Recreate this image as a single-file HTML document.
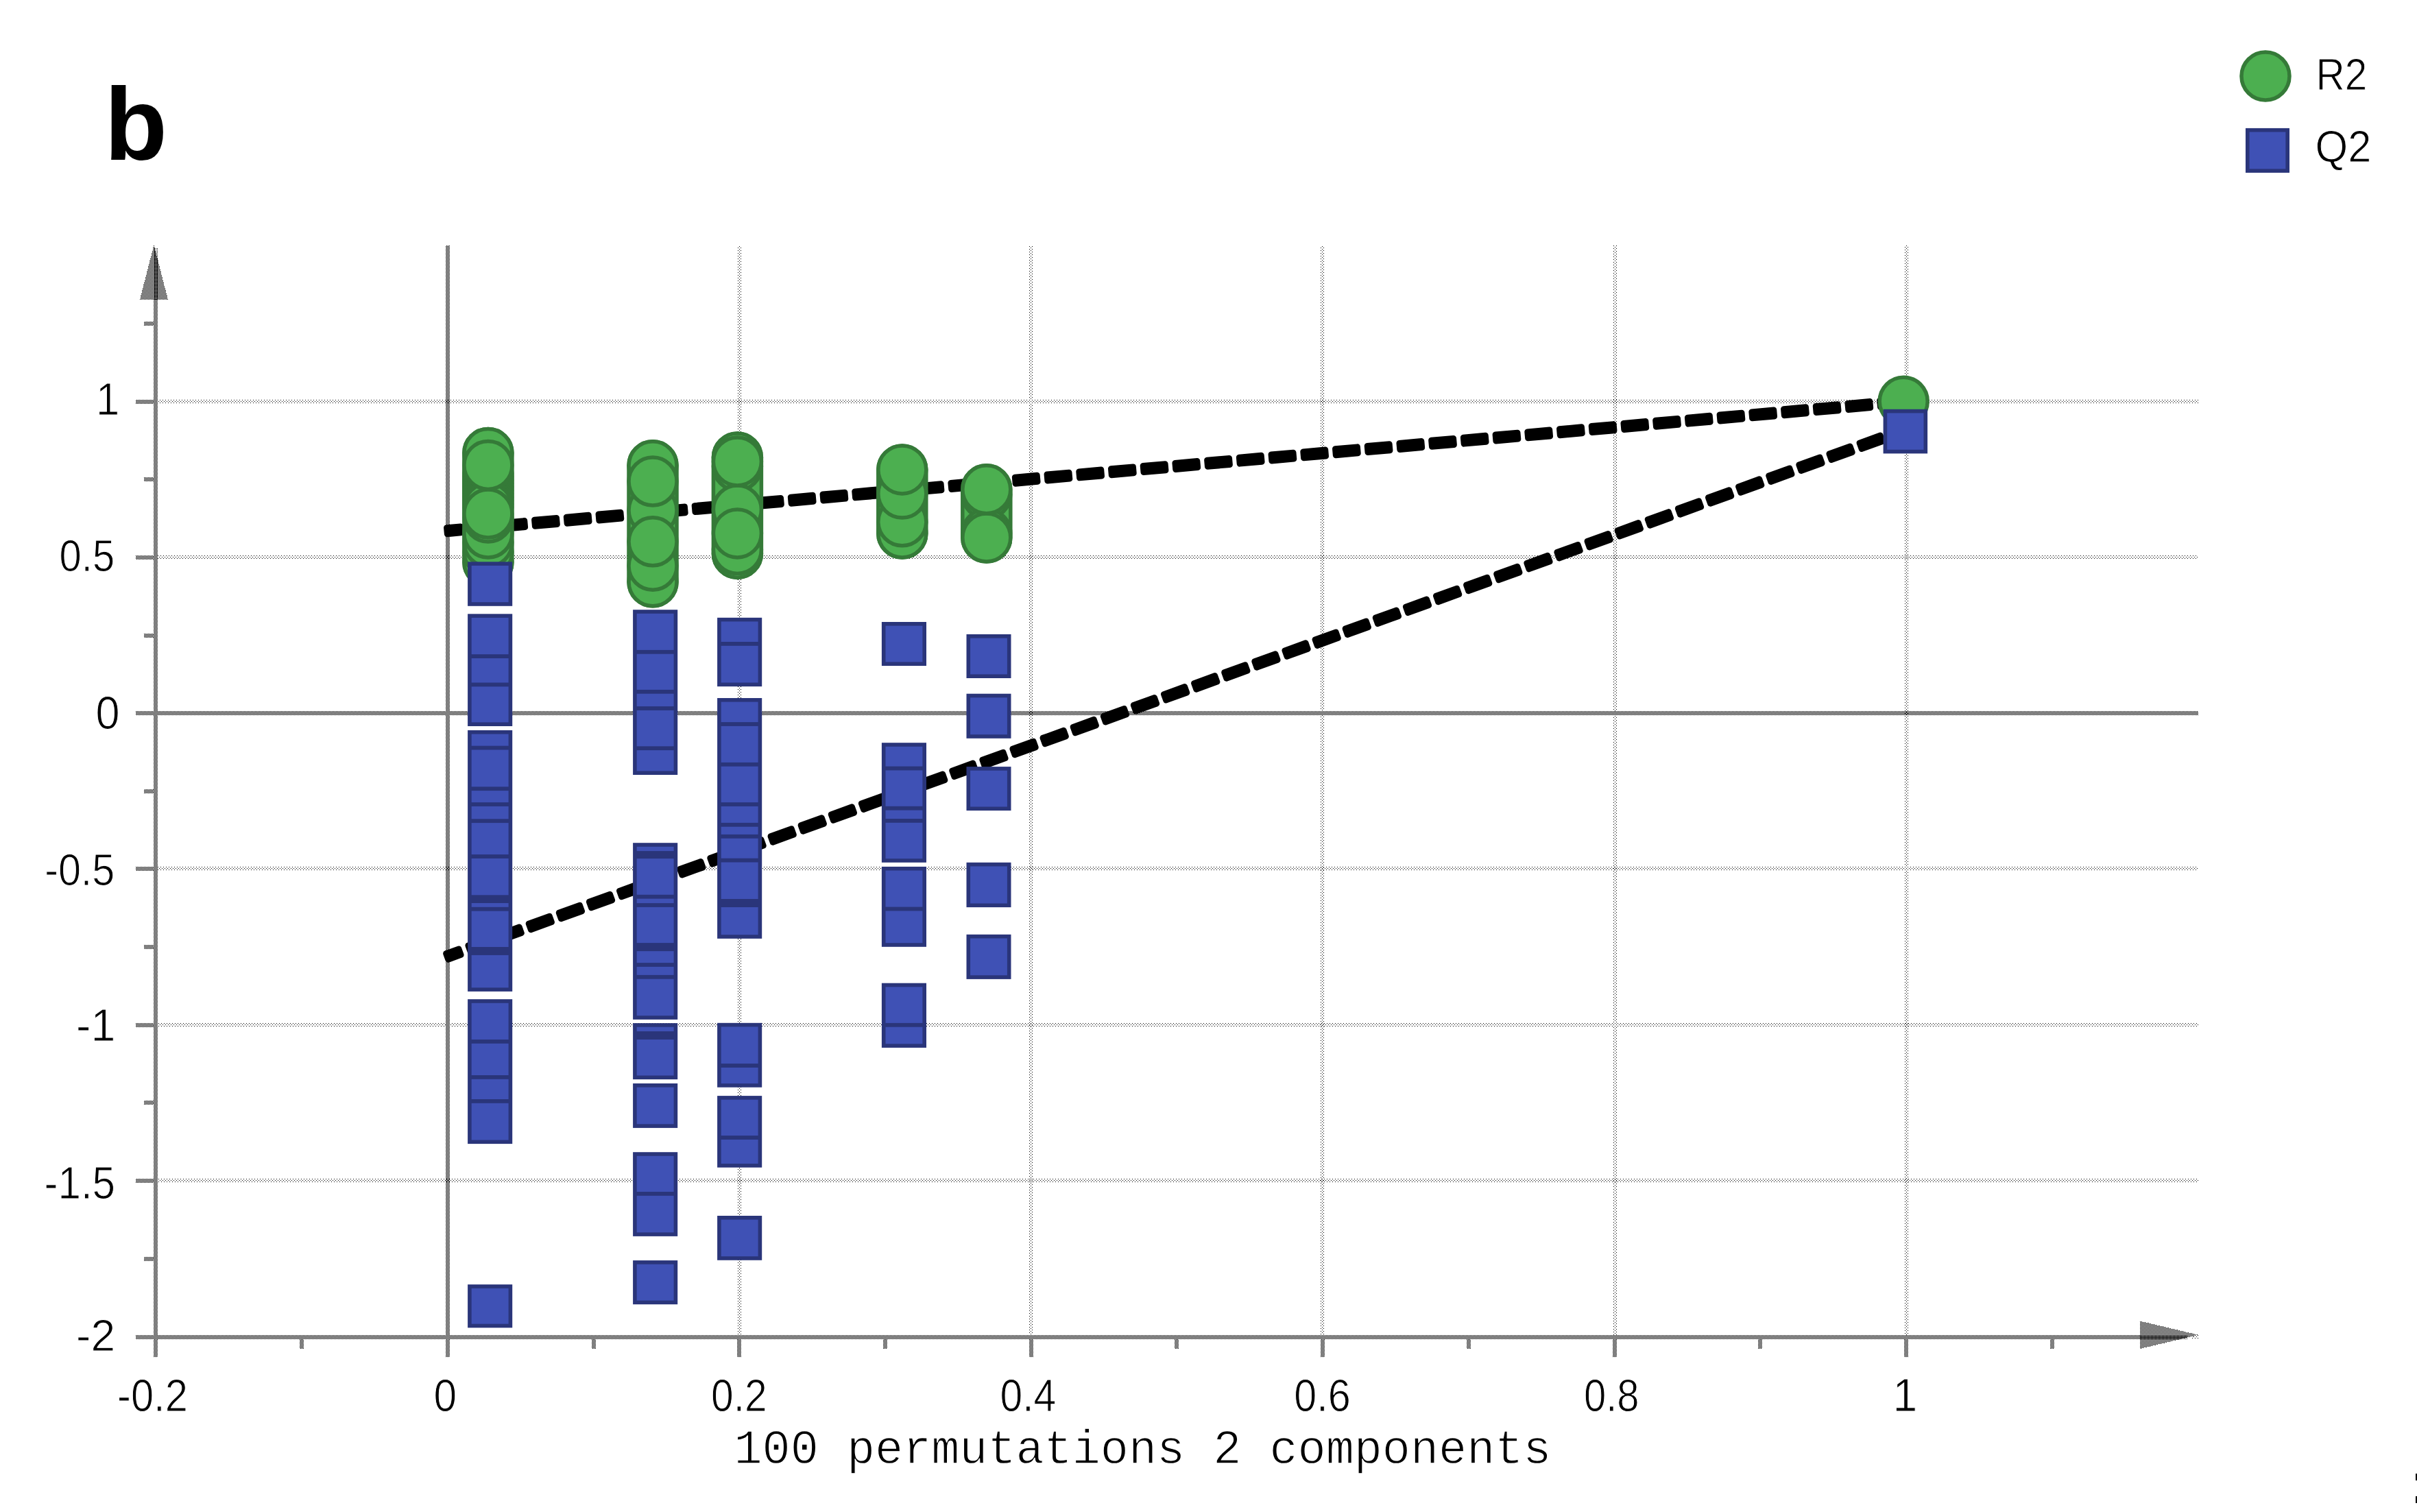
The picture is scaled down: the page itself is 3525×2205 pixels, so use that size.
<!DOCTYPE html>
<html><head><meta charset="utf-8"><title>Permutation plot</title>
<style>html,body{margin:0;padding:0;background:#fff;}body{width:3525px;height:2205px;overflow:hidden;position:relative;font-family:"Liberation Sans",sans-serif;}</style>
</head><body>
<svg width="3525" height="2205" viewBox="0 0 3525 2205" style="position:absolute;left:0;top:0;display:block">
<defs>
<pattern id="chk" width="2" height="2" patternUnits="userSpaceOnUse"><rect x="0" y="0" width="1" height="1" fill="#000"/><rect x="1" y="1" width="1" height="1" fill="#000"/></pattern>
<pattern id="chkB" width="2" height="2" patternUnits="userSpaceOnUse"><rect x="1" y="0" width="1" height="1" fill="#000"/><rect x="0" y="1" width="1" height="1" fill="#000"/></pattern>
<pattern id="q3" width="2" height="2" patternUnits="userSpaceOnUse"><rect x="1" y="0" width="1" height="1" fill="#000"/></pattern>
<pattern id="dl" width="4" height="4" patternUnits="userSpaceOnUse"><rect x="0" y="0" width="1" height="1" fill="#000"/><rect x="2" y="2" width="1" height="1" fill="#000"/></pattern>
<pattern id="dh" width="4" height="4" patternUnits="userSpaceOnUse"><rect x="1" y="3" width="1" height="1" fill="#000"/><rect x="3" y="1" width="1" height="1" fill="#000"/></pattern>
<pattern id="dv" width="4" height="4" patternUnits="userSpaceOnUse"><rect x="0" y="1" width="1" height="1" fill="#000"/><rect x="2" y="3" width="1" height="1" fill="#000"/></pattern>
</defs>
<rect width="3525" height="2205" fill="#fff"/>
<g shape-rendering="crispEdges">
<g transform="translate(229,583)"><rect x="1" y="0" width="2976" height="5" fill="url(#dl)"/></g>
<g transform="translate(230,810)"><rect x="0" y="0" width="2976" height="5" fill="url(#dl)"/></g>
<g transform="translate(230,1264)"><rect x="0" y="0" width="2976" height="5" fill="url(#dl)"/></g>
<g transform="translate(231,1492)"><rect x="-1" y="0" width="2976" height="5" fill="url(#dl)"/></g>
<g transform="translate(231,1719)"><rect x="-1" y="0" width="2976" height="5" fill="url(#dl)"/></g>
<g transform="translate(1076,357)"><rect x="0" y="1" width="5" height="1589" fill="url(#dl)"/></g>
<g transform="translate(1501,359)"><rect x="0" y="-1" width="5" height="1589" fill="url(#dl)"/></g>
<g transform="translate(1926,357)"><rect x="0" y="1" width="5" height="1589" fill="url(#dl)"/></g>
<g transform="translate(2353,358)"><rect x="0" y="0" width="5" height="1589" fill="url(#dl)"/></g>
<g transform="translate(2778,356)"><rect x="0" y="2" width="5" height="1589" fill="url(#dl)"/></g>
<rect x="224" y="437" width="6" height="1516" fill="url(#chkB)"/>
<rect x="224" y="1953" width="6" height="26" fill="url(#chk)"/>
<rect x="198" y="1947" width="2924" height="6" fill="url(#chkB)"/>
<rect x="650" y="358" width="6" height="1595" fill="url(#chkB)"/>
<rect x="650" y="1953" width="6" height="26" fill="url(#chk)"/>
<rect x="198" y="1037" width="3008" height="6" fill="url(#chkB)"/>
<rect x="198" y="583" width="26" height="6" fill="url(#chk)"/>
<rect x="198" y="810" width="26" height="6" fill="url(#chk)"/>
<rect x="198" y="1264" width="26" height="6" fill="url(#chk)"/>
<rect x="198" y="1492" width="26" height="6" fill="url(#chk)"/>
<rect x="198" y="1719" width="26" height="6" fill="url(#chk)"/>
<rect x="210" y="469" width="14" height="6" fill="url(#chk)"/>
<rect x="210" y="696" width="14" height="6" fill="url(#chk)"/>
<rect x="210" y="924" width="14" height="6" fill="url(#chk)"/>
<rect x="210" y="1151" width="14" height="6" fill="url(#chk)"/>
<rect x="210" y="1378" width="14" height="6" fill="url(#chk)"/>
<rect x="210" y="1605" width="14" height="6" fill="url(#chk)"/>
<rect x="210" y="1833" width="14" height="6" fill="url(#chk)"/>
<rect x="1075" y="1953" width="6" height="26" fill="url(#chk)"/>
<rect x="1501" y="1953" width="6" height="26" fill="url(#chk)"/>
<rect x="1926" y="1953" width="6" height="26" fill="url(#chk)"/>
<rect x="2352" y="1953" width="6" height="26" fill="url(#chk)"/>
<rect x="2777" y="1953" width="6" height="26" fill="url(#chk)"/>
<rect x="437" y="1953" width="6" height="14" fill="url(#chk)"/>
<rect x="863" y="1953" width="6" height="14" fill="url(#chk)"/>
<rect x="1288" y="1953" width="6" height="14" fill="url(#chk)"/>
<rect x="1713" y="1953" width="6" height="14" fill="url(#chk)"/>
<rect x="2139" y="1953" width="6" height="14" fill="url(#chk)"/>
<rect x="2564" y="1953" width="6" height="14" fill="url(#chk)"/>
<rect x="2990" y="1953" width="6" height="14" fill="url(#chk)"/>
<polygon points="224.5,357 204,437 245,437" fill="url(#chk)"/>
<polygon points="3206,1946.75 3121,1926.5 3121,1967" fill="url(#chk)"/>
<rect x="3121" y="1947" width="70" height="6" fill="url(#q3)"/><rect x="3197" y="1947" width="9" height="6" fill="url(#dh)"/>
<rect x="224" y="362" width="6" height="75" fill="url(#q3)"/>
</g>
<g fill="#000"><rect x="647.50" y="765.55" width="28.84" height="18.0" rx="4.2" transform="rotate(-5.069 647.50 774.55)"/><rect x="682.10" y="762.48" width="41.00" height="18.0" rx="4.2" transform="rotate(-5.069 682.10 771.48)"/><rect x="728.82" y="758.33" width="41.00" height="18.0" rx="4.2" transform="rotate(-5.069 728.82 767.33)"/><rect x="775.53" y="754.19" width="41.00" height="18.0" rx="4.2" transform="rotate(-5.069 775.53 763.19)"/><rect x="822.25" y="750.05" width="41.00" height="18.0" rx="4.2" transform="rotate(-5.069 822.25 759.05)"/><rect x="868.97" y="745.90" width="41.00" height="18.0" rx="4.2" transform="rotate(-5.069 868.97 754.90)"/><rect x="915.68" y="741.76" width="41.00" height="18.0" rx="4.2" transform="rotate(-5.069 915.68 750.76)"/><rect x="962.40" y="737.62" width="41.00" height="18.0" rx="4.2" transform="rotate(-5.069 962.40 746.62)"/><rect x="1009.12" y="733.47" width="41.00" height="18.0" rx="4.2" transform="rotate(-5.069 1009.12 742.47)"/><rect x="1055.83" y="729.33" width="41.00" height="18.0" rx="4.2" transform="rotate(-5.069 1055.83 738.33)"/><rect x="1102.55" y="725.19" width="41.00" height="18.0" rx="4.2" transform="rotate(-5.069 1102.55 734.19)"/><rect x="1149.27" y="721.04" width="41.00" height="18.0" rx="4.2" transform="rotate(-5.069 1149.27 730.04)"/><rect x="1195.98" y="716.90" width="41.00" height="18.0" rx="4.2" transform="rotate(-5.069 1195.98 725.90)"/><rect x="1242.70" y="712.75" width="41.00" height="18.0" rx="4.2" transform="rotate(-5.069 1242.70 721.75)"/><rect x="1289.42" y="708.61" width="41.00" height="18.0" rx="4.2" transform="rotate(-5.069 1289.42 717.61)"/><rect x="1336.13" y="704.47" width="41.00" height="18.0" rx="4.2" transform="rotate(-5.069 1336.13 713.47)"/><rect x="1382.85" y="700.32" width="41.00" height="18.0" rx="4.2" transform="rotate(-5.069 1382.85 709.32)"/><rect x="1429.57" y="696.18" width="41.00" height="18.0" rx="4.2" transform="rotate(-5.069 1429.57 705.18)"/><rect x="1476.28" y="692.04" width="41.00" height="18.0" rx="4.2" transform="rotate(-5.069 1476.28 701.04)"/><rect x="1523.00" y="687.89" width="41.00" height="18.0" rx="4.2" transform="rotate(-5.069 1523.00 696.89)"/><rect x="1569.72" y="683.75" width="41.00" height="18.0" rx="4.2" transform="rotate(-5.069 1569.72 692.75)"/><rect x="1616.43" y="679.61" width="41.00" height="18.0" rx="4.2" transform="rotate(-5.069 1616.43 688.61)"/><rect x="1663.15" y="675.46" width="41.00" height="18.0" rx="4.2" transform="rotate(-5.069 1663.15 684.46)"/><rect x="1709.87" y="671.32" width="41.00" height="18.0" rx="4.2" transform="rotate(-5.069 1709.87 680.32)"/><rect x="1756.58" y="667.17" width="41.00" height="18.0" rx="4.2" transform="rotate(-5.069 1756.58 676.17)"/><rect x="1803.30" y="663.03" width="41.00" height="18.0" rx="4.2" transform="rotate(-5.069 1803.30 672.03)"/><rect x="1850.01" y="658.89" width="41.00" height="18.0" rx="4.2" transform="rotate(-5.069 1850.01 667.89)"/><rect x="1896.73" y="654.74" width="41.00" height="18.0" rx="4.2" transform="rotate(-5.069 1896.73 663.74)"/><rect x="1943.45" y="650.60" width="41.00" height="18.0" rx="4.2" transform="rotate(-5.069 1943.45 659.60)"/><rect x="1990.16" y="646.46" width="41.00" height="18.0" rx="4.2" transform="rotate(-5.069 1990.16 655.46)"/><rect x="2036.88" y="642.31" width="41.00" height="18.0" rx="4.2" transform="rotate(-5.069 2036.88 651.31)"/><rect x="2083.60" y="638.17" width="41.00" height="18.0" rx="4.2" transform="rotate(-5.069 2083.60 647.17)"/><rect x="2130.31" y="634.03" width="41.00" height="18.0" rx="4.2" transform="rotate(-5.069 2130.31 643.03)"/><rect x="2177.03" y="629.88" width="41.00" height="18.0" rx="4.2" transform="rotate(-5.069 2177.03 638.88)"/><rect x="2223.75" y="625.74" width="41.00" height="18.0" rx="4.2" transform="rotate(-5.069 2223.75 634.74)"/><rect x="2270.46" y="621.59" width="41.00" height="18.0" rx="4.2" transform="rotate(-5.069 2270.46 630.59)"/><rect x="2317.18" y="617.45" width="41.00" height="18.0" rx="4.2" transform="rotate(-5.069 2317.18 626.45)"/><rect x="2363.90" y="613.31" width="41.00" height="18.0" rx="4.2" transform="rotate(-5.069 2363.90 622.31)"/><rect x="2410.61" y="609.16" width="41.00" height="18.0" rx="4.2" transform="rotate(-5.069 2410.61 618.16)"/><rect x="2457.33" y="605.02" width="41.00" height="18.0" rx="4.2" transform="rotate(-5.069 2457.33 614.02)"/><rect x="2504.05" y="600.88" width="41.00" height="18.0" rx="4.2" transform="rotate(-5.069 2504.05 609.88)"/><rect x="2550.76" y="596.73" width="41.00" height="18.0" rx="4.2" transform="rotate(-5.069 2550.76 605.73)"/><rect x="2597.48" y="592.59" width="41.00" height="18.0" rx="4.2" transform="rotate(-5.069 2597.48 601.59)"/><rect x="2644.20" y="588.45" width="41.00" height="18.0" rx="4.2" transform="rotate(-5.069 2644.20 597.45)"/><rect x="2690.91" y="584.30" width="41.00" height="18.0" rx="4.2" transform="rotate(-5.069 2690.91 593.30)"/><rect x="2737.63" y="580.16" width="41.00" height="18.0" rx="4.2" transform="rotate(-5.069 2737.63 589.16)"/></g>
<g fill="#000"><rect x="648.00" y="1387.39" width="28.44" height="18.0" rx="4.2" transform="rotate(-19.860 648.00 1396.39)"/><rect x="680.30" y="1375.73" width="41.00" height="18.0" rx="4.2" transform="rotate(-19.860 680.30 1384.73)"/><rect x="724.41" y="1359.79" width="41.00" height="18.0" rx="4.2" transform="rotate(-19.860 724.41 1368.79)"/><rect x="768.52" y="1343.86" width="41.00" height="18.0" rx="4.2" transform="rotate(-19.860 768.52 1352.86)"/><rect x="812.63" y="1327.93" width="41.00" height="18.0" rx="4.2" transform="rotate(-19.860 812.63 1336.93)"/><rect x="856.74" y="1312.00" width="41.00" height="18.0" rx="4.2" transform="rotate(-19.860 856.74 1321.00)"/><rect x="900.85" y="1296.06" width="41.00" height="18.0" rx="4.2" transform="rotate(-19.860 900.85 1305.06)"/><rect x="944.96" y="1280.13" width="41.00" height="18.0" rx="4.2" transform="rotate(-19.860 944.96 1289.13)"/><rect x="989.08" y="1264.20" width="41.00" height="18.0" rx="4.2" transform="rotate(-19.860 989.08 1273.20)"/><rect x="1033.19" y="1248.26" width="41.00" height="18.0" rx="4.2" transform="rotate(-19.860 1033.19 1257.26)"/><rect x="1077.30" y="1232.33" width="41.00" height="18.0" rx="4.2" transform="rotate(-19.860 1077.30 1241.33)"/><rect x="1121.41" y="1216.40" width="41.00" height="18.0" rx="4.2" transform="rotate(-19.860 1121.41 1225.40)"/><rect x="1165.52" y="1200.47" width="41.00" height="18.0" rx="4.2" transform="rotate(-19.860 1165.52 1209.47)"/><rect x="1209.63" y="1184.53" width="41.00" height="18.0" rx="4.2" transform="rotate(-19.860 1209.63 1193.53)"/><rect x="1253.74" y="1168.60" width="41.00" height="18.0" rx="4.2" transform="rotate(-19.860 1253.74 1177.60)"/><rect x="1297.85" y="1152.67" width="41.00" height="18.0" rx="4.2" transform="rotate(-19.860 1297.85 1161.67)"/><rect x="1341.96" y="1136.73" width="41.00" height="18.0" rx="4.2" transform="rotate(-19.860 1341.96 1145.73)"/><rect x="1386.07" y="1120.80" width="41.00" height="18.0" rx="4.2" transform="rotate(-19.860 1386.07 1129.80)"/><rect x="1430.18" y="1104.87" width="41.00" height="18.0" rx="4.2" transform="rotate(-19.860 1430.18 1113.87)"/><rect x="1474.29" y="1088.94" width="41.00" height="18.0" rx="4.2" transform="rotate(-19.860 1474.29 1097.94)"/><rect x="1518.40" y="1073.00" width="41.00" height="18.0" rx="4.2" transform="rotate(-19.860 1518.40 1082.00)"/><rect x="1562.51" y="1057.07" width="41.00" height="18.0" rx="4.2" transform="rotate(-19.860 1562.51 1066.07)"/><rect x="1606.63" y="1041.14" width="41.00" height="18.0" rx="4.2" transform="rotate(-19.860 1606.63 1050.14)"/><rect x="1650.74" y="1025.21" width="41.00" height="18.0" rx="4.2" transform="rotate(-19.860 1650.74 1034.21)"/><rect x="1694.85" y="1009.27" width="41.00" height="18.0" rx="4.2" transform="rotate(-19.860 1694.85 1018.27)"/><rect x="1738.96" y="993.34" width="41.00" height="18.0" rx="4.2" transform="rotate(-19.860 1738.96 1002.34)"/><rect x="1783.07" y="977.41" width="41.00" height="18.0" rx="4.2" transform="rotate(-19.860 1783.07 986.41)"/><rect x="1827.18" y="961.47" width="41.00" height="18.0" rx="4.2" transform="rotate(-19.860 1827.18 970.47)"/><rect x="1871.29" y="945.54" width="41.00" height="18.0" rx="4.2" transform="rotate(-19.860 1871.29 954.54)"/><rect x="1915.40" y="929.61" width="41.00" height="18.0" rx="4.2" transform="rotate(-19.860 1915.40 938.61)"/><rect x="1959.51" y="913.68" width="41.00" height="18.0" rx="4.2" transform="rotate(-19.860 1959.51 922.68)"/><rect x="2003.62" y="897.74" width="41.00" height="18.0" rx="4.2" transform="rotate(-19.860 2003.62 906.74)"/><rect x="2047.73" y="881.81" width="41.00" height="18.0" rx="4.2" transform="rotate(-19.860 2047.73 890.81)"/><rect x="2091.84" y="865.88" width="41.00" height="18.0" rx="4.2" transform="rotate(-19.860 2091.84 874.88)"/><rect x="2135.95" y="849.94" width="41.00" height="18.0" rx="4.2" transform="rotate(-19.860 2135.95 858.94)"/><rect x="2180.06" y="834.01" width="41.00" height="18.0" rx="4.2" transform="rotate(-19.860 2180.06 843.01)"/><rect x="2224.18" y="818.08" width="41.00" height="18.0" rx="4.2" transform="rotate(-19.860 2224.18 827.08)"/><rect x="2268.29" y="802.15" width="41.00" height="18.0" rx="4.2" transform="rotate(-19.860 2268.29 811.15)"/><rect x="2312.40" y="786.21" width="41.00" height="18.0" rx="4.2" transform="rotate(-19.860 2312.40 795.21)"/><rect x="2356.51" y="770.28" width="41.00" height="18.0" rx="4.2" transform="rotate(-19.860 2356.51 779.28)"/><rect x="2400.62" y="754.35" width="41.00" height="18.0" rx="4.2" transform="rotate(-19.860 2400.62 763.35)"/><rect x="2444.73" y="738.41" width="41.00" height="18.0" rx="4.2" transform="rotate(-19.860 2444.73 747.41)"/><rect x="2488.84" y="722.48" width="41.00" height="18.0" rx="4.2" transform="rotate(-19.860 2488.84 731.48)"/><rect x="2532.95" y="706.55" width="41.00" height="18.0" rx="4.2" transform="rotate(-19.860 2532.95 715.55)"/><rect x="2577.06" y="690.62" width="41.00" height="18.0" rx="4.2" transform="rotate(-19.860 2577.06 699.62)"/><rect x="2621.17" y="674.68" width="41.00" height="18.0" rx="4.2" transform="rotate(-19.860 2621.17 683.68)"/><rect x="2665.28" y="658.75" width="41.00" height="18.0" rx="4.2" transform="rotate(-19.860 2665.28 667.75)"/><rect x="2709.39" y="642.82" width="41.00" height="18.0" rx="4.2" transform="rotate(-19.860 2709.39 651.82)"/><rect x="2753.50" y="626.88" width="38.17" height="18.0" rx="4.2" transform="rotate(-19.860 2753.50 635.88)"/></g>
<g fill="#4caf50" stroke="#357a38" stroke-width="5.5">
<rect x="676.9" y="625.5" width="70" height="229.50" rx="35" ry="35"/>
<circle cx="711.9" cy="820" r="35" />
<circle cx="711.9" cy="805" r="35" />
<circle cx="711.9" cy="791" r="35" />
<circle cx="711.9" cy="778" r="35" />
<circle cx="711.9" cy="755" r="35" />
<circle cx="711.9" cy="690" r="35" />
<circle cx="711.9" cy="695" r="35" />
<circle cx="711.9" cy="700" r="35" />
<circle cx="711.9" cy="705" r="35" />
<circle cx="711.9" cy="710" r="35" />
<circle cx="711.9" cy="715" r="35" />
<circle cx="711.9" cy="720" r="35" />
<circle cx="711.9" cy="725" r="35" />
<circle cx="711.9" cy="730" r="35" />
<circle cx="711.9" cy="735" r="35" />
<circle cx="711.9" cy="740" r="35" />
<circle cx="711.9" cy="660.5" r="35" />
<circle cx="711.9" cy="749" r="35" />
<circle cx="711.9" cy="678.4" r="35" />
<rect x="917.0" y="643.8" width="70" height="239.90" rx="35" ry="35"/>
<circle cx="952.0" cy="848.7" r="35" />
<circle cx="952.0" cy="825.3" r="35" />
<circle cx="952.0" cy="743.9" r="35" />
<circle cx="952.0" cy="678.8" r="35" />
<circle cx="952.0" cy="789.8" r="35" />
<circle cx="952.0" cy="702" r="35" />
<rect x="1040.4" y="631.9" width="70" height="210.50" rx="35" ry="35"/>
<circle cx="1075.4" cy="807.4" r="35" />
<circle cx="1075.4" cy="801.5" r="35" />
<circle cx="1075.4" cy="666.9" r="35" />
<circle cx="1075.4" cy="680" r="35" />
<circle cx="1075.4" cy="743" r="35" />
<circle cx="1075.4" cy="777.9" r="35" />
<circle cx="1075.4" cy="672.9" r="35" />
<rect x="1280.8" y="649.9" width="70" height="163.10" rx="35" ry="35"/>
<circle cx="1315.8" cy="778" r="35" />
<circle cx="1315.8" cy="760.7" r="35" />
<circle cx="1315.8" cy="720.1" r="35" />
<circle cx="1315.8" cy="684.9" r="35" />
<rect x="1403.8" y="678.7" width="70" height="140.30" rx="35" ry="35"/>
<circle cx="1438.8" cy="721" r="35" />
<circle cx="1438.8" cy="777.6" r="35" />
<circle cx="1438.8" cy="784" r="35" />
<circle cx="1438.8" cy="713.7" r="35" />
<circle cx="2776.2" cy="585.2" r="35" />
<circle cx="3304" cy="111" r="35" />
</g>
<g shape-rendering="geometricPrecision">
<rect x="682.1" y="819.3" width="65.10" height="64.50" fill="#2a357a"/><rect x="687.70" y="824.90" width="53.90" height="53.30" fill="#3f51b5"/>
<rect x="682.1" y="895.3" width="65.10" height="163.70" fill="#2a357a"/><rect x="687.70" y="900.90" width="53.90" height="53.30" fill="#3f51b5"/><rect x="687.70" y="960.00" width="53.90" height="35.50" fill="#3f51b5"/><rect x="687.70" y="1001.30" width="53.90" height="52.10" fill="#3f51b5"/>
<rect x="682.1" y="1064.9" width="65.10" height="381.00" fill="#2a357a"/><rect x="687.70" y="1070.50" width="53.90" height="17.20" fill="#3f51b5"/><rect x="687.70" y="1093.50" width="53.90" height="53.80" fill="#3f51b5"/><rect x="687.70" y="1153.10" width="53.90" height="17.00" fill="#3f51b5"/><rect x="687.70" y="1175.90" width="53.90" height="18.40" fill="#3f51b5"/><rect x="687.70" y="1200.10" width="53.90" height="46.00" fill="#3f51b5"/><rect x="687.70" y="1251.90" width="53.90" height="53.40" fill="#3f51b5"/><rect x="687.70" y="1317.00" width="53.90" height="5.80" fill="#3f51b5"/><rect x="687.70" y="1328.60" width="53.90" height="52.40" fill="#3f51b5"/><rect x="687.70" y="1392.90" width="53.90" height="47.40" fill="#3f51b5"/>
<rect x="682.1" y="1457.2" width="65.10" height="210.90" fill="#2a357a"/><rect x="687.70" y="1462.80" width="53.90" height="53.20" fill="#3f51b5"/><rect x="687.70" y="1521.80" width="53.90" height="46.20" fill="#3f51b5"/><rect x="687.70" y="1573.80" width="53.90" height="29.20" fill="#3f51b5"/><rect x="687.70" y="1608.80" width="53.90" height="53.70" fill="#3f51b5"/>
<rect x="682.1" y="1873.2" width="65.10" height="63.10" fill="#2a357a"/><rect x="687.70" y="1878.80" width="53.90" height="51.90" fill="#3f51b5"/>
<rect x="923.1" y="889.2" width="65.10" height="240.80" fill="#2a357a"/><rect x="928.70" y="894.80" width="53.90" height="53.10" fill="#3f51b5"/><rect x="928.70" y="953.70" width="53.90" height="52.20" fill="#3f51b5"/><rect x="928.70" y="1011.70" width="53.90" height="18.40" fill="#3f51b5"/><rect x="928.70" y="1035.90" width="53.90" height="52.40" fill="#3f51b5"/><rect x="928.70" y="1094.10" width="53.90" height="30.30" fill="#3f51b5"/>
<rect x="923.1" y="1229.2" width="65.10" height="257.60" fill="#2a357a"/><rect x="928.70" y="1234.80" width="53.90" height="6.30" fill="#3f51b5"/><rect x="928.70" y="1252.10" width="53.90" height="52.70" fill="#3f51b5"/><rect x="928.70" y="1310.60" width="53.90" height="6.50" fill="#3f51b5"/><rect x="928.70" y="1322.90" width="53.90" height="52.20" fill="#3f51b5"/><rect x="928.70" y="1387.10" width="53.90" height="17.00" fill="#3f51b5"/><rect x="928.70" y="1409.90" width="53.90" height="12.00" fill="#3f51b5"/><rect x="928.70" y="1427.70" width="53.90" height="53.50" fill="#3f51b5"/>
<rect x="923.1" y="1492.1" width="65.10" height="82.00" fill="#2a357a"/><rect x="928.70" y="1497.70" width="53.90" height="6.30" fill="#3f51b5"/><rect x="928.70" y="1516.00" width="53.90" height="52.50" fill="#3f51b5"/>
<rect x="923.1" y="1580" width="65.10" height="64.90" fill="#2a357a"/><rect x="928.70" y="1585.60" width="53.90" height="53.70" fill="#3f51b5"/>
<rect x="923.1" y="1680.2" width="65.10" height="122.70" fill="#2a357a"/><rect x="928.70" y="1685.80" width="53.90" height="52.20" fill="#3f51b5"/><rect x="928.70" y="1743.80" width="53.90" height="53.50" fill="#3f51b5"/>
<rect x="923.1" y="1838.1" width="65.10" height="64.10" fill="#2a357a"/><rect x="928.70" y="1843.70" width="53.90" height="52.90" fill="#3f51b5"/>
<rect x="1046.1" y="900.8" width="65.10" height="100.30" fill="#2a357a"/><rect x="1051.70" y="906.40" width="53.90" height="29.60" fill="#3f51b5"/><rect x="1051.70" y="941.80" width="53.90" height="53.70" fill="#3f51b5"/>
<rect x="1046.1" y="1018" width="65.10" height="350.80" fill="#2a357a"/><rect x="1051.70" y="1023.60" width="53.90" height="29.50" fill="#3f51b5"/><rect x="1051.70" y="1058.90" width="53.90" height="53.00" fill="#3f51b5"/><rect x="1051.70" y="1117.70" width="53.90" height="52.40" fill="#3f51b5"/><rect x="1051.70" y="1175.90" width="53.90" height="24.00" fill="#3f51b5"/><rect x="1051.70" y="1205.70" width="53.90" height="11.20" fill="#3f51b5"/><rect x="1051.70" y="1222.70" width="53.90" height="29.00" fill="#3f51b5"/><rect x="1051.70" y="1257.50" width="53.90" height="53.50" fill="#3f51b5"/><rect x="1051.70" y="1323.00" width="53.90" height="40.20" fill="#3f51b5"/>
<rect x="1046.1" y="1491.8" width="65.10" height="93.90" fill="#2a357a"/><rect x="1051.70" y="1497.40" width="53.90" height="53.70" fill="#3f51b5"/><rect x="1051.70" y="1556.90" width="53.90" height="23.20" fill="#3f51b5"/>
<rect x="1046.1" y="1598.1" width="65.10" height="104.50" fill="#2a357a"/><rect x="1051.70" y="1603.70" width="53.90" height="52.40" fill="#3f51b5"/><rect x="1051.70" y="1661.90" width="53.90" height="35.10" fill="#3f51b5"/>
<rect x="1046.1" y="1773" width="65.10" height="64.80" fill="#2a357a"/><rect x="1051.70" y="1778.60" width="53.90" height="53.60" fill="#3f51b5"/>
<rect x="1285.9" y="907" width="65.10" height="64.00" fill="#2a357a"/><rect x="1291.50" y="912.60" width="53.90" height="52.80" fill="#3f51b5"/>
<rect x="1285.9" y="1083.2" width="65.10" height="174.60" fill="#2a357a"/><rect x="1291.50" y="1088.80" width="53.90" height="28.80" fill="#3f51b5"/><rect x="1291.50" y="1123.40" width="53.90" height="52.40" fill="#3f51b5"/><rect x="1291.50" y="1181.60" width="53.90" height="12.40" fill="#3f51b5"/><rect x="1291.50" y="1199.80" width="53.90" height="52.40" fill="#3f51b5"/>
<rect x="1285.9" y="1263.9" width="65.10" height="116.90" fill="#2a357a"/><rect x="1291.50" y="1269.50" width="53.90" height="53.10" fill="#3f51b5"/><rect x="1291.50" y="1328.40" width="53.90" height="46.80" fill="#3f51b5"/>
<rect x="1285.9" y="1433.7" width="65.10" height="94.20" fill="#2a357a"/><rect x="1291.50" y="1439.30" width="53.90" height="52.60" fill="#3f51b5"/><rect x="1291.50" y="1497.70" width="53.90" height="24.60" fill="#3f51b5"/>
<rect x="1409.5" y="925" width="65.00" height="64.00" fill="#2a357a"/><rect x="1415.10" y="930.60" width="53.80" height="52.80" fill="#3f51b5"/>
<rect x="1409.5" y="1011.7" width="65.00" height="65.10" fill="#2a357a"/><rect x="1415.10" y="1017.30" width="53.80" height="53.90" fill="#3f51b5"/>
<rect x="1409.5" y="1118.1" width="65.00" height="64.00" fill="#2a357a"/><rect x="1415.10" y="1123.70" width="53.80" height="52.80" fill="#3f51b5"/>
<rect x="1409.5" y="1257.8" width="65.00" height="65.30" fill="#2a357a"/><rect x="1415.10" y="1263.40" width="53.80" height="54.10" fill="#3f51b5"/>
<rect x="1409.5" y="1362.8" width="65.00" height="65.10" fill="#2a357a"/><rect x="1415.10" y="1368.40" width="53.80" height="53.90" fill="#3f51b5"/>
<rect x="2746.6" y="596.8" width="64.50" height="64.60" fill="#2a357a"/><rect x="2752.20" y="602.40" width="53.30" height="53.40" fill="#3f51b5"/>
<rect x="3275" y="186.9" width="64.00" height="65.00" fill="#2a357a"/><rect x="3280.60" y="192.50" width="52.80" height="53.80" fill="#3f51b5"/>
</g>
<g fill="#000">
<text x="0" y="0" font-family="'Liberation Sans', sans-serif" font-size="100" font-weight="normal" stroke="#fff" stroke-width="1.5" transform="matrix(0.6161 0 0 0.6667 139.98 605.00)">1</text>
<text x="0" y="0" font-family="'Liberation Sans', sans-serif" font-size="100" font-weight="normal" stroke="#fff" stroke-width="1.5" transform="matrix(0.5794 0 0 0.6521 86.58 833.45)">0.5</text>
<text x="0" y="0" font-family="'Liberation Sans', sans-serif" font-size="100" font-weight="normal" stroke="#fff" stroke-width="1.5" transform="matrix(0.6312 0 0 0.6775 139.38 1063.02)">0</text>
<text x="0" y="0" font-family="'Liberation Sans', sans-serif" font-size="100" font-weight="normal" stroke="#fff" stroke-width="1.5" transform="matrix(0.5933 0 0 0.6521 65.13 1290.85)">-0.5</text>
<text x="0" y="0" font-family="'Liberation Sans', sans-serif" font-size="100" font-weight="normal" stroke="#fff" stroke-width="1.5" transform="matrix(0.6462 0 0 0.6652 110.89 1518.30)">-1</text>
<text x="0" y="0" font-family="'Liberation Sans', sans-serif" font-size="100" font-weight="normal" stroke="#fff" stroke-width="1.5" transform="matrix(0.6018 0 0 0.6643 64.39 1747.94)">-1.5</text>
<text x="0" y="0" font-family="'Liberation Sans', sans-serif" font-size="100" font-weight="normal" stroke="#fff" stroke-width="1.5" transform="matrix(0.6415 0 0 0.6500 111.11 1969.50)">-2</text>
<text x="0" y="0" font-family="'Liberation Sans', sans-serif" font-size="100" font-weight="normal" stroke="#fff" stroke-width="1.5" transform="matrix(0.5969 0 0 0.6676 171.01 2057.73)">-0.2</text>
<text x="0" y="0" font-family="'Liberation Sans', sans-serif" font-size="100" font-weight="normal" stroke="#fff" stroke-width="1.5" transform="matrix(0.6042 0 0 0.6676 632.58 2057.73)">0</text>
<text x="0" y="0" font-family="'Liberation Sans', sans-serif" font-size="100" font-weight="normal" stroke="#fff" stroke-width="1.5" transform="matrix(0.5877 0 0 0.6676 1037.05 2057.73)">0.2</text>
<text x="0" y="0" font-family="'Liberation Sans', sans-serif" font-size="100" font-weight="normal" stroke="#fff" stroke-width="1.5" transform="matrix(0.5886 0 0 0.6676 1458.45 2057.73)">0.4</text>
<text x="0" y="0" font-family="'Liberation Sans', sans-serif" font-size="100" font-weight="normal" stroke="#fff" stroke-width="1.5" transform="matrix(0.5931 0 0 0.6676 1887.23 2057.73)">0.6</text>
<text x="0" y="0" font-family="'Liberation Sans', sans-serif" font-size="100" font-weight="normal" stroke="#fff" stroke-width="1.5" transform="matrix(0.5802 0 0 0.6676 2309.98 2057.73)">0.8</text>
<text x="0" y="0" font-family="'Liberation Sans', sans-serif" font-size="100" font-weight="normal" stroke="#fff" stroke-width="1.5" transform="matrix(0.6437 0 0 0.6870 2760.47 2058.40)">1</text>
<text x="0" y="0" font-family="'Liberation Sans', sans-serif" font-size="100" font-weight="normal" stroke="#fff" stroke-width="1.5" transform="matrix(0.5852 0 0 0.6471 3377.52 131.10)">R2</text>
<text x="0" y="0" font-family="'Liberation Sans', sans-serif" font-size="100" font-weight="normal" stroke="#fff" stroke-width="1.5" transform="matrix(0.6137 0 0 0.6416 3376.44 235.61)">Q2</text>
<text x="0" y="0" font-family="'Liberation Sans', sans-serif" font-size="100" font-weight="bold"  transform="matrix(1.5030 0 0 1.4966 152.23 233.40)">b</text>
<text x="0" y="0" font-family="'Liberation Mono', monospace" font-size="100" font-weight="normal" stroke="#fff" stroke-width="1.8" transform="matrix(0.6850 0 0 0.6970 1070.50 2133.50)">100 permutations 2 components</text>
</g>
<rect x="3523" y="2149" width="2" height="10" fill="#000"/><rect x="3523" y="2182" width="2" height="10" fill="#000"/>
</svg>
</body></html>
